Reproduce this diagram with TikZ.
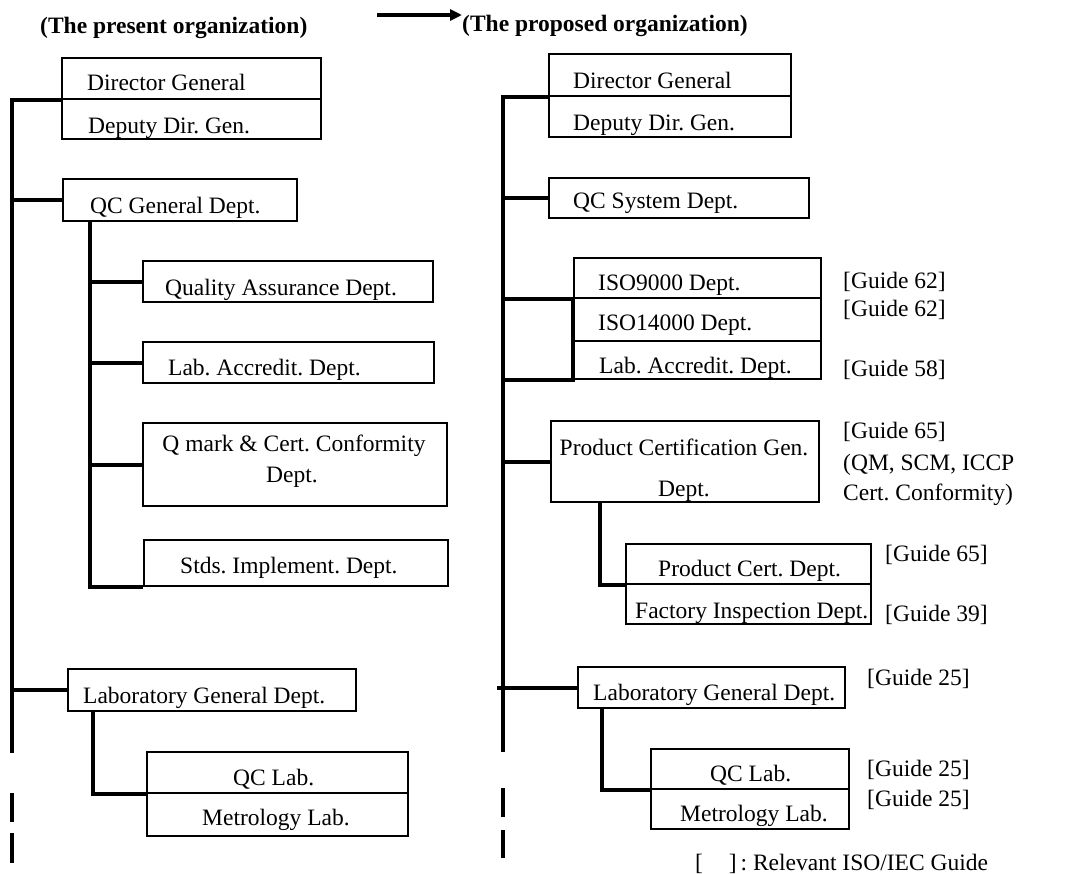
\documentclass[tikz,border=0pt]{standalone}
\usepackage{fontspec}
\setmainfont{Liberation Serif}
\usetikzlibrary{arrows.meta}
\frenchspacing
\tikzset{
    every node/.style={inner sep=0pt, font=\fontsize{23.5}{28}\selectfont}
}
\tikzset{
    unit/.style={draw, rectangle, line width=2.2pt, anchor=north west}
}
\tikzset{
    txt/.style={anchor=base west},
    mid/.style={anchor=base},
    head/.style={anchor=base west, font=\fontsize{23.5}{28}\selectfont\bfseries},
    link/.style={line width=4pt}
}

\begin{document}
\begin{tikzpicture}[x=1pt, y=-1pt]
  \useasboundingbox (0,0) rectangle (1070,873);

  % headers
  \node (hpresent) [head] at (40,33) {(The present organization)};
  \node (hproposed) [head] at (462,31) {(The proposed organization)};
  \coordinate (atail) at (377,15);
  \draw [link, -{Triangle[length=12pt, width=11pt]}] (atail) -- (hproposed.north west |- atail);

  % present organization
  \node (ldg) [unit, minimum width=259pt, minimum height=41pt] at (61,57) {};
  \node (lddg) [unit, minimum width=259pt, minimum height=40pt] at (61,98) {};
  \node (lqcg) [unit, minimum width=234pt, minimum height=42pt] at (62,178) {};
  \node (lqa) [unit, minimum width=290pt, minimum height=41pt] at (142,260) {};
  \node (lla) [unit, minimum width=291pt, minimum height=41pt] at (142,341) {};
  \node (lqm) [unit, minimum width=304pt, minimum height=83pt] at (142,422) {};
  \node (lsi) [unit, minimum width=304pt, minimum height=46pt] at (143,539) {};
  \node (llg) [unit, minimum width=288pt, minimum height=42pt] at (67,668) {};
  \node (lqcl) [unit, minimum width=261pt, minimum height=41pt] at (146,751) {};
  \node (lml) [unit, minimum width=261pt, minimum height=43pt] at (146,792) {};

  \node (ldgt) [txt] at (87,90) {Director General};
  \node (lddgt) [txt] at (88,133) {Deputy Dir. Gen.};
  \node (lqcgt) [txt] at (90,213) {QC General Dept.};
  \node (lqat) [txt] at (165,295) {Quality Assurance Dept.};
  \node (llat) [txt] at (168,375) {Lab. Accredit. Dept.};
  \node (lqmt) [mid] at (294,451) {Q mark \& Cert. Conformity};
  \node (lqmd) [mid] at (292,482) {Dept.};
  \node (lsit) [txt] at (180,573) {Stds. Implement. Dept.};
  \node (llgt) [txt] at (83,703) {Laboratory General Dept.};
  \node (lqclt) [txt] at (233,785) {QC Lab.};
  \node (lmlt) [txt] at (202,825) {Metrology Lab.};

  \coordinate (lbot) at (12,753);
  \coordinate (lend) at (12,863);
  \coordinate (lsub) at (90,220);
  \coordinate (lsubb) at (93,710);
  \draw [link] (ldg.south west) -| (lbot);
  \draw [link, dash pattern=on 0pt off 40pt on 29pt off 11pt on 30pt off 60pt] (lbot) -- (lend);
  \draw [link] (lqcg.west -| lbot) -- (lqcg.west);
  \draw [link] (llg.west -| lbot) -- (llg.west);
  \draw [link] (lsub) |- (lsi.south west);
  \draw [link] (lqa.west -| lsub) -- (lqa.west);
  \draw [link] (lla.west -| lsub) -- (lla.west);
  \draw [link] (lqm.west -| lsub) -- (lqm.west);
  \draw [link] (lsubb) |- (lqcl.south west);

  % proposed organization
  \node (rdg) [unit, minimum width=242pt, minimum height=42pt] at (548,53) {};
  \node (rddg) [unit, minimum width=242pt, minimum height=41pt] at (548,95) {};
  \node (rqcs) [unit, minimum width=260pt, minimum height=40pt] at (548,177) {};
  \node (riso9) [unit, minimum width=247pt, minimum height=40pt] at (573,257) {};
  \node (riso14) [unit, minimum width=247pt, minimum height=43pt] at (573,297) {};
  \node (rla) [unit, minimum width=247pt, minimum height=38pt] at (573,340) {};
  \node (rpcg) [unit, minimum width=268pt, minimum height=81pt] at (550,420) {};
  \node (rpc) [unit, minimum width=245pt, minimum height=40pt] at (625,543) {};
  \node (rfi) [unit, minimum width=245pt, minimum height=40pt] at (625,583) {};
  \node (rlg) [unit, minimum width=267pt, minimum height=41pt] at (577,666) {};
  \node (rqcl) [unit, minimum width=198pt, minimum height=40pt] at (650,748) {};
  \node (rml) [unit, minimum width=198pt, minimum height=40pt] at (650,788) {};

  \node (rdgt) [txt] at (573,88) {Director General};
  \node (rddgt) [txt] at (573,130) {Deputy Dir. Gen.};
  \node (rqcst) [txt] at (573,208) {QC System Dept.};
  \node (riso9t) [txt] at (598,290) {ISO9000 Dept.};
  \node (riso14t) [txt] at (598,330) {ISO14000 Dept.};
  \node (rlat) [txt] at (599,373) {Lab. Accredit. Dept.};
  \node (rpcgt) [mid] at (684,455) {Product Certification Gen.};
  \node (rpcgd) [mid] at (684,496) {Dept.};
  \node (rpct) [txt] at (658,576) {Product Cert. Dept.};
  \node (rfit) [txt] at (635,618) {Factory Inspection Dept.};
  \node (rlgt) [txt] at (593,700) {Laboratory General Dept.};
  \node (rqclt) [txt] at (710,781) {QC Lab.};
  \node (rmlt) [txt] at (680,821) {Metrology Lab.};

  \coordinate (rbot) at (503,752);
  \coordinate (rend) at (503,858);
  \coordinate (rsub) at (600,501);
  \coordinate (rsubb) at (602,707);
  \draw [link] (rdg.south west) -| (rbot);
  \draw [link, dash pattern=on 0pt off 36pt on 29pt off 13pt on 28pt off 60pt] (rbot) -- (rend);
  \draw [link] (rqcs.west -| rbot) -- (rqcs.west);
  \draw [link] (riso9.south west -| rbot) -- (riso9.south west) -- (rla.south west) -- (rla.south west -| rbot);
  \draw [link] (rpcg.west -| rbot) -- (rpcg.west);
  \draw [link] ([xshift=-6pt]rlg.west -| rbot) -- (rlg.west);
  \draw [link] (rsub) |- (rpc.south west);
  \draw [link] (rsubb) |- (rqcl.south west);

  % guides
  \node (g62a) [txt] at (843,288) {[Guide 62]};
  \node (g62b) [txt] at (843,316) {[Guide 62]};
  \node (g58) [txt] at (843,376) {[Guide 58]};
  \node (g65a) [txt] at (843,438) {[Guide 65]};
  \node (gqm) [txt] at (843,470) {(QM, SCM, ICCP};
  \node (gcc) [txt] at (843,500) {Cert. Conformity)};
  \node (g65b) [txt] at (885,561) {[Guide 65]};
  \node (g39) [txt] at (885,621) {[Guide 39]};
  \node (g25a) [txt] at (867,685) {[Guide 25]};
  \node (g25b) [txt] at (867,776) {[Guide 25]};
  \node (g25c) [txt] at (867,806) {[Guide 25]};
  \node (legend) [txt] at (695,870) {[\hspace{1.1em}]\,: Relevant ISO/IEC Guide};
\end{tikzpicture}
\end{document}
